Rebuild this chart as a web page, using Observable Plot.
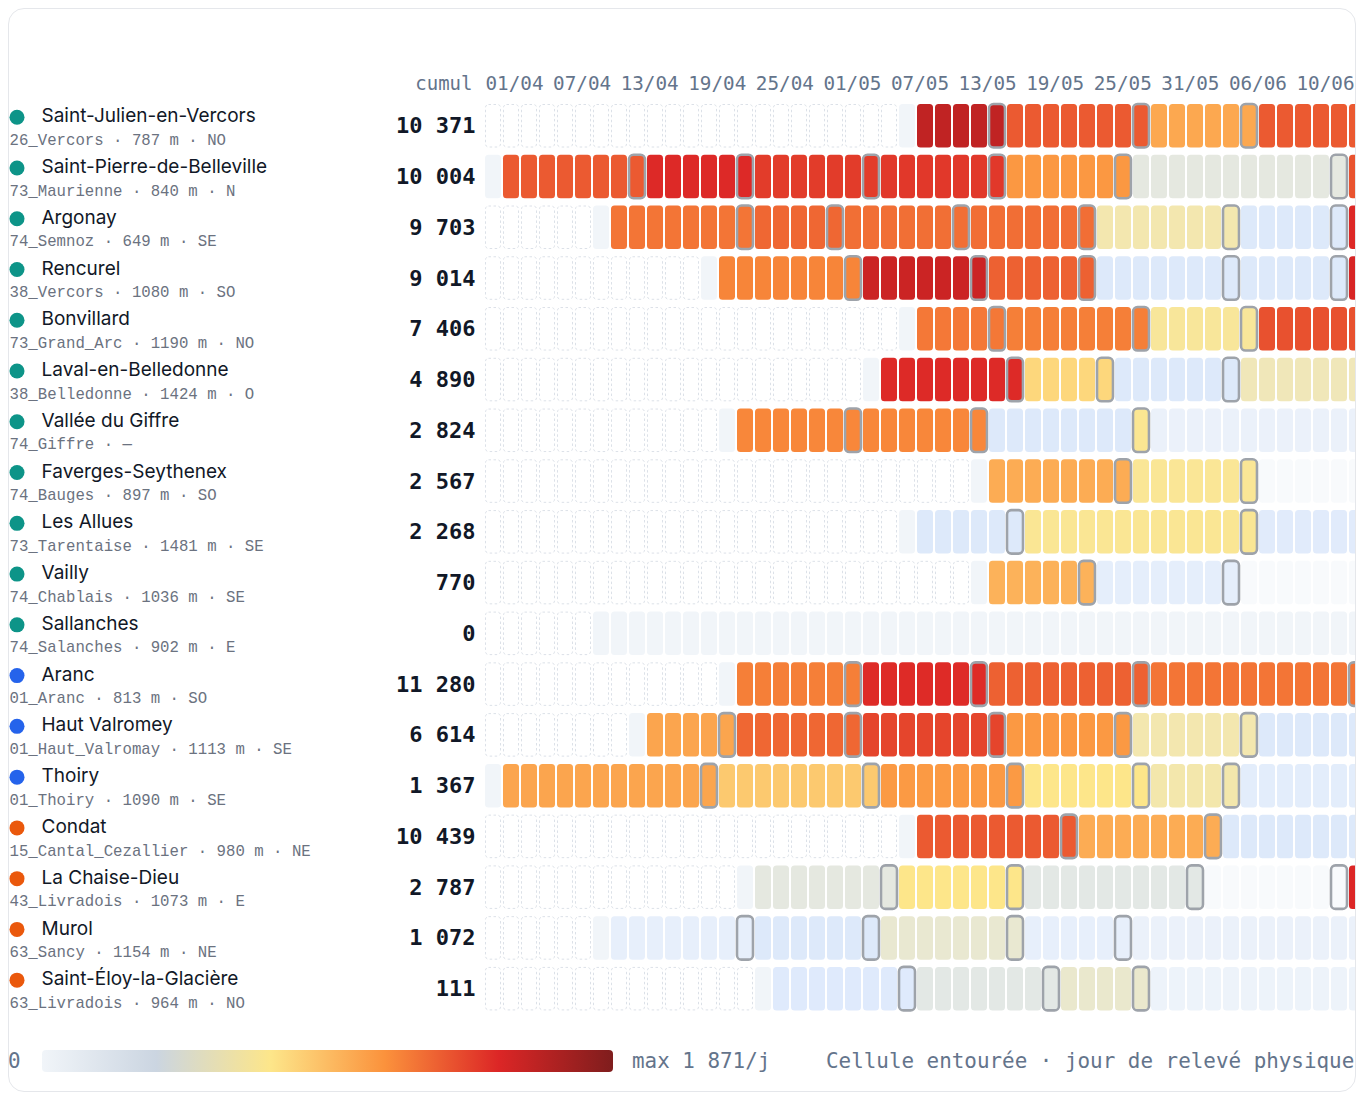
<!DOCTYPE html>
<html><head><meta charset="utf-8">
<script src="https://cdn.jsdelivr.net/npm/d3@7"></script>
<script src="https://cdn.jsdelivr.net/npm/@observablehq/plot@0.6"></script>
<style>
body{margin:0;background:#fff;overflow:hidden;width:1358px;height:1095px;position:relative}
#card{position:absolute;left:8px;top:8px;width:1346px;height:1082px;border:1px solid #e5e7eb;border-radius:16px;overflow:hidden;background:#fff}
#inner{position:absolute;left:-9px;top:-9px;width:1400px;height:1095px}
#inner > svg{position:absolute;left:0;top:0}
.lg{position:absolute;font-family:"DejaVu Sans Mono",monospace;font-size:20.9px;color:#64748b;line-height:24px;white-space:pre}
#bar{position:absolute;left:42px;top:1050px;width:571px;height:22px;border-radius:4px;
background:linear-gradient(to right,#f1f5f9 0%,#cbd5e1 20%,#fde68a 40%,#fb923c 60%,#dc2626 80%,#7f1d1d 100%)}
</style></head>
<body>
<div id="card"><div id="inner"></div></div>
<script>
// ---- data ----
const names = ["Saint-Julien-en-Vercors","Saint-Pierre-de-Belleville","Argonay","Rencurel","Bonvillard","Laval-en-Belledonne","Vallée du Giffre","Faverges-Seythenex","Les Allues","Vailly","Sallanches","Aranc","Haut Valromey","Thoiry","Condat","La Chaise-Dieu","Murol","Saint-Éloy-la-Glacière"];
const subtitles = ["26_Vercors · 787 m · NO","73_Maurienne · 840 m · N","74_Semnoz · 649 m · SE","38_Vercors · 1080 m · SO","73_Grand_Arc · 1190 m · NO","38_Belledonne · 1424 m · O","74_Giffre · —","74_Bauges · 897 m · SO","73_Tarentaise · 1481 m · SE","74_Chablais · 1036 m · SE","74_Salanches · 902 m · E","01_Aranc · 813 m · SO","01_Haut_Valromay · 1113 m · SE","01_Thoiry · 1090 m · SE","15_Cantal_Cezallier · 980 m · NE","43_Livradois · 1073 m · E","63_Sancy · 1154 m · NE","63_Livradois · 964 m · NO"];
const groups = ["alpes","alpes","alpes","alpes","alpes","alpes","alpes","alpes","alpes","alpes","alpes","ain","ain","ain","massif","massif","massif","massif"];
const cumuls = [10371,10004,9703,9014,7406,4890,2824,2567,2268,770,0,11280,6614,1367,10439,2787,1072,111];
const startDay = [23,0,6,12,23,21,13,27,23,27,6,13,8,0,23,14,6,15];
// runs: [first day, last day, bees per day] (null = no estimate yet)
const runs = [
  [[24,28,1260],[29,36,760],[37,42,410],[43,48,760]],
  [[1,8,760],[9,14,985],[15,21,900],[22,28,915],[29,35,475],[36,47,45],[48,48,790]],
  [[7,14,635],[15,19,700],[20,26,660],[27,33,665],[34,41,105],[42,47,12],[48,48,990]],
  [[13,20,560],[21,27,1157],[28,33,725],[34,41,12],[42,47,12],[48,48,1050]],
  [[24,28,620],[29,36,590],[37,42,130],[43,48,800]],
  [[22,29,980],[30,34,213],[35,41,12],[42,48,92]],
  [[14,27,550],[28,35,12],[36,36,140],[37,48,3]],
  [[28,35,392],[36,42,135],[43,48,null]],
  [[24,29,12],[30,42,138],[43,48,8]],
  [[28,33,367],[34,41,6],[42,48,null]],
  [[7,48,0]],
  [[14,20,590],[21,27,975],[28,36,725],[37,48,635]],
  [[9,13,420],[14,20,700],[21,28,855],[29,35,470],[36,42,105],[43,48,12]],
  [[1,12,420],[13,21,272],[22,29,465],[30,36,150],[37,41,108],[42,48,7]],
  [[24,32,760],[33,40,392],[41,48,12]],
  [[15,22,45],[23,29,150],[30,39,38],[40,47,null],[48,48,1000]],
  [[7,14,5],[15,21,12],[22,29,63],[30,35,5],[36,48,3]],
  [[16,23,9],[24,31,38],[32,36,68],[37,48,2]]
];
const readingDays = [[28,36,42],[8,14,21,28,35,47],[14,19,26,33,41,47],[20,27,33,41,47],[28,36,42],[29,34,41],[20,27,36],[35,42],[29,42],[33,41],[],[20,27,36,48],[13,20,28,35,42],[12,21,29,36,41],[32,40],[22,29,39,47],[14,21,29,35],[23,31,36]];
const dayLabels = ["01/04","07/04","13/04","19/04","25/04","01/05","07/05","13/05","19/05","25/05","31/05","06/06","10/06"];
const nDays = 49;
const maxRate = 1871;
const groupColors = {alpes:"#0d9488", ain:"#2563eb", massif:"#ea580c"};

// ---- build cells ----
const days = d3.range(nDays);
const rows = d3.range(names.length);
const valueCells=[], emptyCells=[], ghostCells=[], readCells=[];
rows.forEach(r => {
  days.forEach(d => {
    if (d < startDay[r]) emptyCells.push({row:r, day:d});
    else if (d === startDay[r]) valueCells.push({row:r, day:d, value:0});
  });
  runs[r].forEach(([a,b,v]) => { for (let d=a; d<=b && d<nDays; d++) (v===null?ghostCells:valueCells).push({row:r, day:d, value:v}); });
  readingDays[r].forEach(d => readCells.push({row:r, day:d}));
});
const fmt = d3.formatLocale({thousands:" ", grouping:[3], decimal:",", currency:["","€"]}).format(",d");
const mono = "DejaVu Sans Mono, monospace";
const sans = "Inter, sans-serif";
const svgStyle = "max-width:none;background:transparent;overflow:visible;";

const main = Plot.plot({
  width: 1366, height: 1095,
  marginLeft: 0, marginRight: 0, marginTop: 0, marginBottom: 0,
  style: svgStyle,
  x: {type:"band", domain: days, range:[485, 485 + 18*(nDays - 2/18)], paddingInner: 2/18, paddingOuter: 0, round:false, axis: null},
  y: {type:"band", domain: rows, range:[104, 104 + 50.76*(rows.length - 0.143)], paddingInner: 0.143, paddingOuter: 0, round:false, axis: null},
  color: {type:"linear", domain:[0,10,150,500,1000,maxRate], range:["#f1f5f9","#dde9fc","#fde68a","#fb923c","#dc2626","#7f1d1d"], interpolate:"rgb"},
  marks: [
    Plot.cell(emptyCells, {x:"day", y:"row", fill:"white", stroke:"#dce1e8", strokeWidth:1, strokeDasharray:"2.5,2.5", inset:0.5, rx:3}),
    Plot.cell(valueCells, {x:"day", y:"row", fill:"value", rx:3.5}),
    Plot.cell(ghostCells, {x:"day", y:"row", fill:"#f1f5f9", fillOpacity:0.5, rx:3.5}),
    Plot.cell(readCells, {x:"day", y:"row", fill:"none", stroke:"#9ea3aa", strokeWidth:2.6, rx:4.5}),
    ...Object.entries(groupColors).map(([g,c]) =>
      Plot.dot(rows.filter(r => groups[r]===g), {y:d=>d, frameAnchor:"left", dx:16.5, dy:-9, r:7.5, fill:c, stroke:"none"})),
    Plot.text(rows, {y:d=>d, frameAnchor:"left", dx:41, dy:-10, text:r=>names[r], textAnchor:"start", fontSize:19, fontFamily:sans, fill:"#111827"}),
    Plot.text(rows, {y:d=>d, frameAnchor:"left", dx:9, dy:13.6, text:r=>subtitles[r], textAnchor:"start", fontSize:15.7, fontFamily:"Liberation Mono, monospace", fill:"#6b7280"}),
    Plot.text(rows, {y:d=>d, frameAnchor:"left", dx:475, dy:0, text:r=>fmt(cumuls[r]), textAnchor:"end", fontSize:22, fontWeight:"bold", fontFamily:mono, fill:"#111827"}),
    Plot.text(["cumul"], {frameAnchor:"top-left", dx:472, dy:83, text:d=>d, textAnchor:"end", lineAnchor:"middle", fontSize:19, fontFamily:mono, fill:"#64748b"})
  ]
});

const header = Plot.plot({
  width: 1366, height: 100,
  marginLeft: 0, marginRight: 0, marginTop: 0, marginBottom: 0,
  style: svgStyle,
  x: {type:"point", domain: dayLabels, range:[514, 1325], padding:0, round:false, axis:null},
  marks: [
    Plot.text(dayLabels, {x:d=>d, frameAnchor:"top", dy:83, lineAnchor:"middle", text:d=>d, fontSize:19.3, fontFamily:mono, fill:"#64748b"})
  ]
});

const inner = document.getElementById("inner");
inner.appendChild(main);
inner.appendChild(header);

// legend below the grid
const mk = (cls, left, text) => { const s=document.createElement("div"); s.className=cls; s.style.left=left+"px"; s.style.top="1049px"; s.textContent=text; inner.appendChild(s); return s; };
mk("lg", 8, "0");
const bar = document.createElement("div"); bar.id="bar"; inner.appendChild(bar);
mk("lg", 632, "max " + fmt(maxRate) + "/j");
mk("lg", 826, "Cellule entourée · jour de relevé physique");
</script>
</body></html>
